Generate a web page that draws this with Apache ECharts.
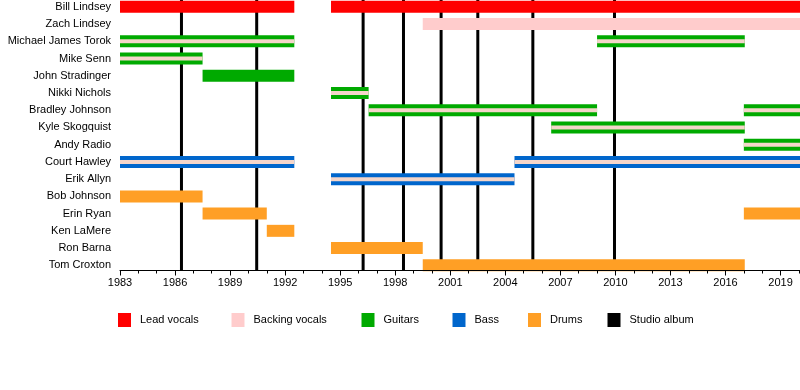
<!DOCTYPE html>
<html>
<head>
<meta charset="utf-8">
<script src="https://cdn.jsdelivr.net/npm/echarts@6/dist/echarts.min.js"></script>
<style>
html,body{margin:0;padding:0;background:#fff;overflow:hidden;}
#chart{width:800px;height:390px;}
</style>
</head>
<body>
<div id="chart"></div>
<script>
// ---- Data ----
const END = 2020.06; // "present" edge of the timeline
const categories = ['Bill Lindsey', 'Zach Lindsey', 'Michael James Torok', 'Mike Senn', 'John Stradinger',
  'Nikki Nichols', 'Bradley Johnson', 'Kyle Skogquist', 'Andy Radio', 'Court Hawley', 'Erik Allyn',
  'Bob Johnson', 'Erin Ryan', 'Ken LaMere', 'Ron Barna', 'Tom Croxton'];

const leadVocals = [['Bill Lindsey', 1983, 1992.5], ['Bill Lindsey', 1994.5, END]];
const backingVocals = [['Zach Lindsey', 1999.5, END]];
const backingStripes = [
  ['Michael James Torok', 1983, 1992.5], ['Michael James Torok', 2009, 2017.05],
  ['Mike Senn', 1983, 1987.5], ['Nikki Nichols', 1994.5, 1996.55],
  ['Bradley Johnson', 1996.55, 2009], ['Bradley Johnson', 2017, END],
  ['Kyle Skogquist', 2006.5, 2017.05], ['Andy Radio', 2017, END],
  ['Court Hawley', 1983, 1992.5], ['Court Hawley', 2004.5, END],
  ['Erik Allyn', 1994.5, 2004.5]
];
const guitars = [
  ['Michael James Torok', 1983, 1992.5], ['Michael James Torok', 2009, 2017.05],
  ['Mike Senn', 1983, 1987.5], ['John Stradinger', 1987.5, 1992.5],
  ['Nikki Nichols', 1994.5, 1996.55], ['Bradley Johnson', 1996.55, 2009],
  ['Bradley Johnson', 2017, END], ['Kyle Skogquist', 2006.5, 2017.05],
  ['Andy Radio', 2017, END]
];
const bass = [['Court Hawley', 1983, 1992.5], ['Court Hawley', 2004.5, END], ['Erik Allyn', 1994.5, 2004.5]];
const drums = [
  ['Bob Johnson', 1983, 1987.5], ['Erin Ryan', 1987.5, 1991], ['Erin Ryan', 2017, END],
  ['Ken LaMere', 1991, 1992.5], ['Ron Barna', 1994.5, 1999.5], ['Tom Croxton', 1999.5, 2017.05]
];
const studioAlbums = [1986.35, 1990.45, 1996.25, 1998.45, 2000.5, 2002.5, 2005.5, 2009.95];
const yearTicks = { min: 1983, max: END, major: 3, minor: 1 };

// ---- Style ----
const FONT = '"Liberation Sans", Arial, sans-serif';
const COLORS = {
  'Lead vocals': '#FF0000', 'Backing vocals': '#FFCCCC', 'Guitars': '#00AA00',
  'Bass': '#0066CC', 'Drums': '#FF9F25', 'Studio album': '#000000', stripe: '#F4D6CA'
};
const AXIS_OFFSET = -3.4;

function toData(arr) {
  return arr.map(d => [categories.indexOf(d[0]), d[1], d[2]]);
}
function barRender(h) {
  return function (params, api) {
    const row = api.value(0);
    const s = api.coord([api.value(1), row]);
    const e = api.coord([api.value(2), row]);
    return {
      type: 'rect',
      shape: { x: s[0], y: s[1] - h / 2, width: e[0] - s[0], height: h },
      style: { fill: api.visual('color') }
    };
  };
}
function barSeries(name, arr, h, z, color) {
  return {
    type: 'custom', name: name, data: toData(arr), z: z,
    color: color || COLORS[name], itemStyle: { color: color || COLORS[name] },
    encode: { x: [1, 2], y: 0 },
    renderItem: barRender(h), silent: true, animation: false
  };
}

const chart = echarts.init(document.getElementById('chart'), null, { renderer: 'canvas' });
const legendNames = ['Lead vocals', 'Backing vocals', 'Guitars', 'Bass', 'Drums', 'Studio album'];
const legendLeft = [118, 231.5, 361.5, 452.5, 528, 607.5];

const option = {
  animation: false,
  backgroundColor: '#fff',
  textStyle: { fontFamily: FONT },
  grid: { left: 120, right: 0, top: -1.77, height: 16 * 17.23, containLabel: false, outerBoundsMode: 'none' },
  legend: legendNames.map((n, i) => ({
    data: [n], left: legendLeft[i], top: 313, padding: 0, itemWidth: 13, itemHeight: 14, icon: 'rect',
    itemStyle: { color: COLORS[n] }, selectedMode: false,
    textStyle: { fontSize: 11, color: '#000', fontFamily: FONT, padding: [0, 0, 0, 4] }
  })),
  xAxis: [{
    type: 'value', min: yearTicks.min, max: yearTicks.max, interval: yearTicks.major,
    offset: AXIS_OFFSET, z: 10,
    axisLine: { show: true, lineStyle: { color: '#000', width: 1 } },
    axisTick: { show: true, length: 5, lineStyle: { color: '#000' } },
    axisLabel: {
      fontSize: 11, color: '#000', fontFamily: FONT, margin: 7,
      formatter: v => (Math.abs(v - Math.round(v)) < 1e-6 ? String(Math.round(v)) : '')
    },
    splitLine: { show: false }
  }, {
    type: 'value', min: yearTicks.min, max: yearTicks.max, interval: yearTicks.minor,
    position: 'bottom', offset: AXIS_OFFSET, z: 10,
    axisLine: { show: false }, axisLabel: { show: false },
    axisTick: { show: true, length: 3, lineStyle: { color: '#000' } },
    splitLine: { show: false }
  }],
  yAxis: {
    type: 'category', data: categories, inverse: true, boundaryGap: true,
    axisLine: { show: false }, axisTick: { show: false }, splitLine: { show: false },
    axisLabel: { fontSize: 11, color: '#000', fontFamily: FONT, margin: 9 }
  },
  series: [
    {
      type: 'custom', name: 'Studio album', z: 1, color: COLORS['Studio album'],
      itemStyle: { color: COLORS['Studio album'] },
      data: studioAlbums.map(v => [v]), encode: { x: 0 },
      renderItem: function (params, api) {
        const cs = params.coordSys;
        const x = api.coord([api.value(0), 0])[0];
        return {
          type: 'line',
          shape: { x1: x, y1: Math.max(cs.y, 0), x2: x, y2: cs.y + cs.height + AXIS_OFFSET },
          style: { stroke: '#000', lineWidth: 3 }
        };
      }, silent: true
    },
    barSeries('Lead vocals', leadVocals, 12, 2),
    barSeries('Backing vocals', backingVocals, 12, 2),
    barSeries('Guitars', guitars, 12, 2),
    barSeries('Bass', bass, 12, 2),
    barSeries('Drums', drums, 12, 2),
    barSeries('stripes', backingStripes, 4, 3, COLORS.stripe)
  ]
};
chart.setOption(option);
</script>
</body>
</html>
